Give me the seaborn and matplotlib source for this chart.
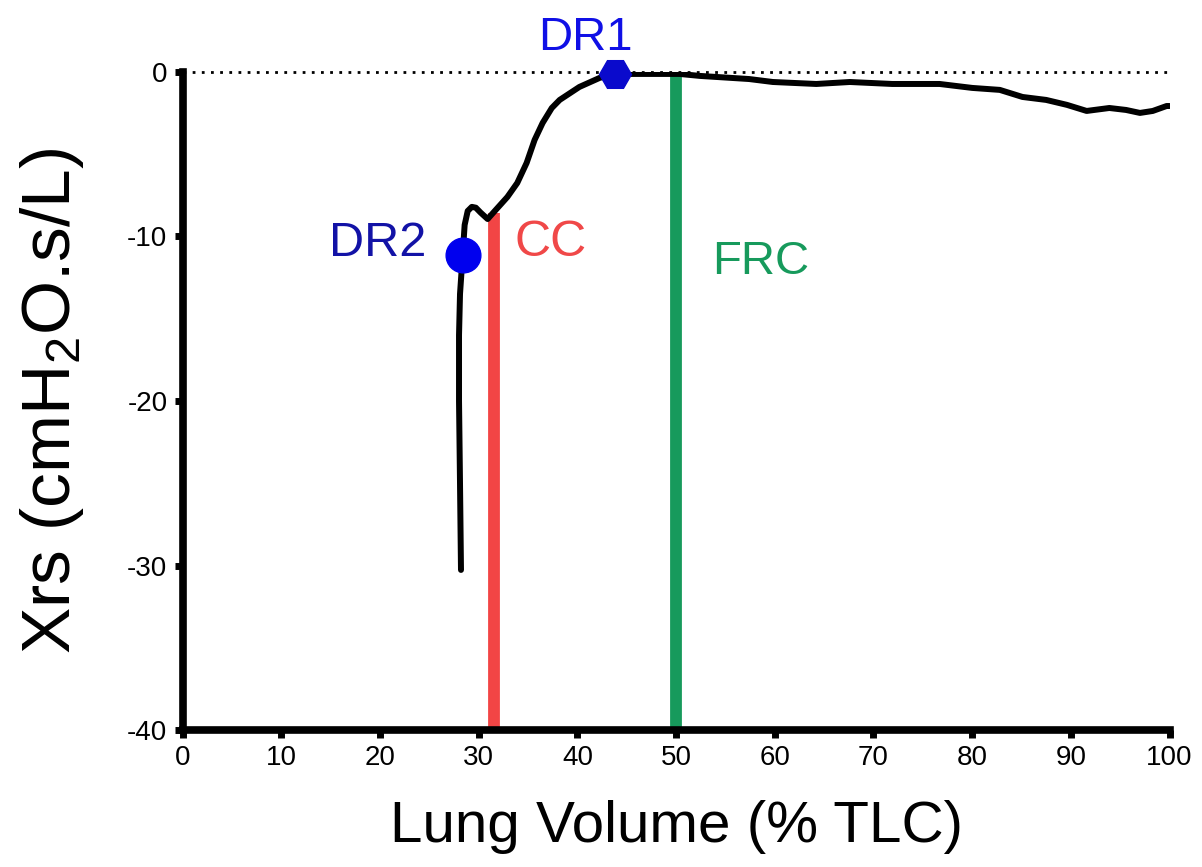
import numpy as np
import pandas as pd
import matplotlib
matplotlib.use("Agg")
import matplotlib.pyplot as plt
import seaborn as sns

# Reactance trace along the deflation manoeuvre
lung_volume = [28.2, 28.1, 28.0, 28.0, 28.1, 28.37, 28.57, 28.88, 29.3, 29.7, 30.19, 30.9,
               31.7, 32.9, 33.9, 34.85, 35.66, 36.47, 37.4, 38.2, 40.2, 42.25,
               43.77, 50.35, 52.4, 57.4, 59.8, 64.2, 67.6, 71.9, 76.7, 80.0,
               82.8, 85.1, 87.5, 89.6, 91.6, 93.9, 95.6, 97.0, 98.3, 99.7, 100.0]
xrs = [-30.27, -25.0, -20.0, -16.0, -13.5, -11.12, -9.3, -8.45, -8.2, -8.25, -8.55, -8.94,
       -8.4, -7.6, -6.75, -5.53, -4.13, -3.1, -2.19, -1.7, -0.91, -0.36,
       -0.12, -0.12, -0.24, -0.43, -0.61, -0.73, -0.61, -0.73, -0.73, -0.97,
       -1.09, -1.52, -1.7, -2.0, -2.37, -2.19, -2.31, -2.49, -2.37, -2.07, -2.07]

# Reference volumes
cc_volume, cc_top = 31.5, -8.6
frc_volume, frc_top = 50.0, -0.25

# Deflection points
dr1 = (43.77, -0.12)
dr2 = (28.37, -11.12)

x_ticks = list(range(0, 101, 10))
y_ticks = [0, -10, -20, -30, -40]

sns.set_style("ticks")
plt.rcParams["font.family"] = ["Liberation Sans", "DejaVu Sans"]
plt.rcParams["mathtext.fontset"] = "custom"
plt.rcParams["mathtext.rm"] = "Liberation Sans"
plt.rcParams["mathtext.it"] = "Liberation Sans:italic"
plt.rcParams["mathtext.default"] = "regular"
plt.rcParams["axes.unicode_minus"] = False
for key in ["text.color", "axes.labelcolor", "xtick.color", "ytick.color",
            "axes.edgecolor"]:
    plt.rcParams[key] = "black"

fig = plt.figure(figsize=(12.02, 8.67), dpi=100)
ax = fig.add_axes([0.152, 0.158, 0.821, 0.759])

df = pd.DataFrame({"vol": lung_volume, "xrs": xrs})

# zero reference
ax.plot([0, 100], [0, 0], color="black", linestyle=(0, (1, 2.3)), lw=2.0, zorder=1,
        clip_on=False)

# closing capacity and FRC
ax.plot([cc_volume, cc_volume], [-40, cc_top], color="#F24545", lw=8.5,
        solid_capstyle="butt", zorder=2)
ax.plot([frc_volume, frc_volume], [-40, frc_top], color="#179A5C", lw=8.5,
        solid_capstyle="butt", zorder=2)

sns.lineplot(data=df, x="vol", y="xrs", sort=False, estimator=None, color="black",
             lw=4.3, ax=ax, zorder=3, solid_joinstyle="round", solid_capstyle="round")

ax.plot(*dr1, marker="H", markersize=23, color="#0A0ACC", zorder=5, clip_on=False)
ax.plot(*dr2, marker="o", markersize=25, color="#0000EE", zorder=5, clip_on=False)

ax.text(40.8, 1.34, "DR1", color="#1010E6", fontsize=34, ha="center",
        va="baseline")
ax.text(24.7, -10.4, "DR2", color="#1212A6", fontsize=35, ha="right", va="center")
ax.text(33.6, -10.4, "CC", color="#F04848", fontsize=36, ha="left", va="center")
ax.text(53.6, -11.55, "FRC", color="#179A5C", fontsize=34, ha="left", va="center")

ax.set_xlim(0, 100)
ax.set_ylim(-40, 0)
ax.set_xticks(x_ticks)
ax.set_yticks(y_ticks)
ax.tick_params(axis="both", direction="out", length=6, width=5, labelsize=20,
               pad=5, color="black", labelcolor="black")

for side in ["top", "right"]:
    ax.spines[side].set_visible(False)
for side in ["left", "bottom"]:
    ax.spines[side].set_linewidth(5.5)
    ax.spines[side].set_color("black")

ax.set_xlabel("Lung Volume (% TLC)", fontsize=42, labelpad=21)
ax.set_ylabel("Xrs (cmH$_2$O.s/L)", fontsize=50, labelpad=30)

fig.savefig("out.png", dpi=100)
